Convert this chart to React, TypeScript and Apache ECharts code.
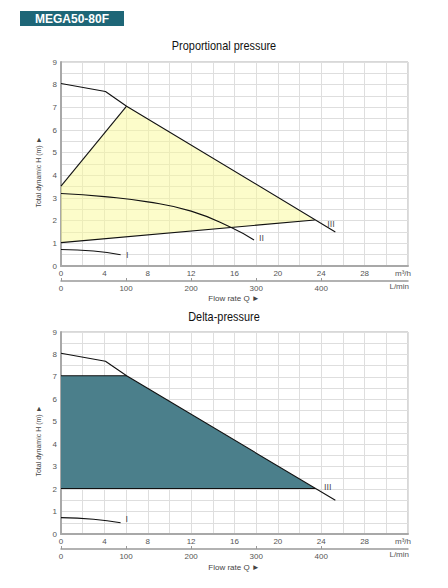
import { useRef, useEffect } from 'react'
import * as echarts from 'echarts'

// flow in m³/h, head in m
const maxCurve = [[0, 8.05], [4.1, 7.7], [6.05, 7.05], [25.3, 1.5]]
const minCurve = [[0, 0.73], [3, 0.66], [5.5, 0.5]]
const curveII = [[0, 3.2], [4, 3.06], [8, 2.83], [12, 2.42], [15.7, 1.7], [17.8, 1.15]]
const propArea = [[0, 1.03], [0, 3.52], [6.05, 7.05], [23.4, 2.03]]
const propLeft = [[0, 3.52], [6.05, 7.05]]
const propBottom = [[0, 1.03], [23.4, 2.03]]
const deltaArea = [[0, 2.03], [0, 7.05], [6.05, 7.05], [23.45, 2.03]]
const deltaTop = [[0, 7.05], [6.05, 7.05]]
const deltaBottom = [[0, 2.03], [23.45, 2.03]]

const flowTicks = [0, 4, 8, 12, 16, 20, 24, 28]
const litreTicks = [0, 100, 200, 300, 400]
const headTicks = [0, 1, 2, 3, 4, 5, 6, 7, 8, 9]

const topLabels = [
  { value: [6.1, 0.49], name: 'I' },
  { value: [18.5, 1.24], name: 'II' },
  { value: [24.9, 1.86], name: 'III' },
]
const bottomLabels = [
  { value: [6.06, 0.67], name: 'I' },
  { value: [24.6, 2.1], name: 'III' },
]

const FONT = '"Liberation Sans", Arial, sans-serif'
const GRID_LINE = '#dedede'
const AXIS_GRAY = '#a8a8a8'

function flowAxis(gridIndex: number) {
  return {
    type: 'value',
    gridIndex,
    min: 0,
    max: 32,
    interval: 2,
    axisLine: { show: true, onZero: false, lineStyle: { color: AXIS_GRAY, width: 2 } },
    axisTick: { show: false },
    axisLabel: { fontSize: 8, color: '#555', margin: 3, customValues: flowTicks },
    splitLine: { lineStyle: { color: GRID_LINE, width: 1 } },
    name: 'm³/h',
    nameLocation: 'end',
    nameGap: 3,
    nameTextStyle: { fontSize: 8, color: '#555', align: 'right', verticalAlign: 'top', padding: [3, 0, 0, 0] },
  }
}

function litreAxis(gridIndex: number) {
  return {
    type: 'value',
    gridIndex,
    position: 'bottom',
    offset: 15,
    min: 0,
    max: 32000 / 60,
    interval: 100,
    axisLine: { show: true, onZero: false, lineStyle: { color: '#999', width: 1.5 } },
    axisTick: { show: true, inside: true, length: 3, customValues: litreTicks, lineStyle: { color: '#999' } },
    axisLabel: { fontSize: 8, color: '#555', margin: 3, customValues: litreTicks },
    splitLine: { show: false },
    name: 'L/min',
    nameLocation: 'end',
    nameGap: 1,
    nameTextStyle: { fontSize: 8, color: '#555', align: 'right', verticalAlign: 'top', padding: [1, 0, 0, 0] },
  }
}

function headAxis(gridIndex: number) {
  return {
    type: 'value',
    gridIndex,
    min: 0,
    max: 9,
    interval: 0.5,
    axisLine: { show: true, lineStyle: { color: AXIS_GRAY, width: 2 } },
    axisTick: { show: false },
    axisLabel: { fontSize: 8, color: '#555', margin: 4, customValues: headTicks },
    splitLine: { lineStyle: { color: GRID_LINE, width: 1 } },
    name: 'Total dynamic H (m) ►',
    nameLocation: 'middle',
    nameGap: 16,
    nameTextStyle: { fontSize: 7, color: '#444', padding: [0, 16, 0, 0] },
  }
}

function line(data: number[][], axis: number, smooth = false) {
  return {
    type: 'line',
    xAxisIndex: axis * 2,
    yAxisIndex: axis,
    data,
    smooth,
    symbol: 'none',
    silent: true,
    lineStyle: { color: '#111', width: 1.1 },
    z: 5,
  }
}

function area(data: number[][], axis: number, fill: string) {
  return {
    type: 'custom',
    xAxisIndex: axis * 2,
    yAxisIndex: axis,
    data,
    silent: true,
    z: 1,
    renderItem: (params: any, api: any) => {
      if (params.dataIndex !== 0) return null
      return {
        type: 'polygon',
        shape: { points: data.map((p) => api.coord(p)) },
        style: { fill, stroke: 'none' },
      }
    },
  }
}

function tags(data: { value: number[]; name: string }[], axis: number) {
  return {
    type: 'scatter',
    xAxisIndex: axis * 2,
    yAxisIndex: axis,
    data,
    symbolSize: 0,
    silent: true,
    z: 6,
    itemStyle: { color: '#111' },
    label: {
      show: true,
      position: 'inside',
      formatter: (p: any) => p.name,
      fontSize: 9,
      color: '#111',
      textBorderWidth: 0,
      fontFamily: FONT,
    },
  }
}

function heading(text: string, y: number) {
  return {
    type: 'text',
    x: 224,
    y,
    scaleX: 0.84,
    style: { text, fill: '#111', font: '13px "Liberation Sans", Arial, sans-serif', align: 'center', verticalAlign: 'middle' },
  }
}

export default function App() {
  const ref = useRef<HTMLDivElement>(null)

  useEffect(() => {
    const el = ref.current
    if (!el) return
    const chart = echarts.init(el, null, { renderer: 'svg' })

    chart.setOption({
      animation: false,
      backgroundColor: '#fff',
      textStyle: { fontFamily: FONT },
      grid: [
        { left: 61, top: 62, width: 347, height: 204, show: true, borderColor: '#b0b0b0', borderWidth: 1 },
        { left: 61, top: 332, width: 347, height: 202, show: true, borderColor: '#b0b0b0', borderWidth: 1 },
      ],
      xAxis: [flowAxis(0), litreAxis(0), flowAxis(1), litreAxis(1)],
      yAxis: [headAxis(0), headAxis(1)],
      graphic: [
        { type: 'rect', left: 20, top: 11, shape: { width: 104, height: 15 }, style: { fill: '#1e6677' } },
        {
          type: 'text',
          x: 72,
          y: 18.5,
          style: {
            text: 'MEGA50-80F',
            fill: '#fff',
            font: 'bold 12px "Liberation Sans", Arial, sans-serif',
            align: 'center',
            verticalAlign: 'middle',
          },
        },
        heading('Proportional pressure', 46),
        heading('Delta-pressure', 317),
        {
          type: 'text',
          x: 234,
          y: 298,
          style: { text: 'Flow rate Q ►', fill: '#444', font: '8px "Liberation Sans", Arial, sans-serif', align: 'center', verticalAlign: 'middle' },
        },
        {
          type: 'text',
          x: 234,
          y: 567,
          style: { text: 'Flow rate Q ►', fill: '#444', font: '8px "Liberation Sans", Arial, sans-serif', align: 'center', verticalAlign: 'middle' },
        },
      ],
      series: [
        area(propArea, 0, 'rgba(250, 250, 150, 0.5)'),
        line(maxCurve, 0),
        line(minCurve, 0, true),
        line(curveII, 0, true),
        line(propLeft, 0),
        line(propBottom, 0),
        tags(topLabels, 0),
        area(deltaArea, 1, '#4b7f8b'),
        line(maxCurve, 1),
        line(minCurve, 1, true),
        line(deltaTop, 1),
        line(deltaBottom, 1),
        tags(bottomLabels, 1),
      ],
    })

    return () => {
      chart.dispose()
    }
  }, [])

  return <div ref={ref} style={{ position: 'absolute', left: 0, top: 0, width: 448, height: 588 }} />
}
